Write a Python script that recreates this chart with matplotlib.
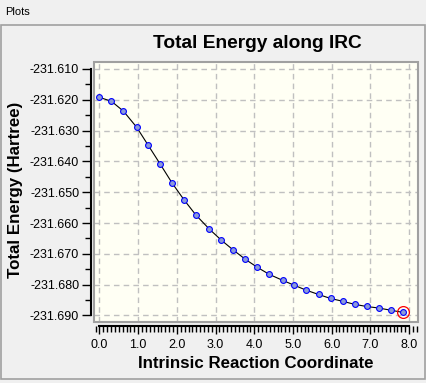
import numpy as np
import matplotlib.pyplot as plt
from matplotlib.patches import Rectangle
from matplotlib.ticker import MultipleLocator, FormatStrFormatter

# irc coordinate of every point
irc = [0.0, 0.31, 0.62, 0.96, 1.26, 1.57, 1.88, 2.18, 2.49, 2.84,
       3.15, 3.46, 3.77, 4.08, 4.39, 4.73, 5.03, 5.34, 5.66, 5.97,
       6.28, 6.59, 6.90, 7.21, 7.52, 7.83]
# total energy in hartree
energy = [-231.6192, -231.6205, -231.6237, -231.6289, -231.6348, -231.6409,
          -231.6471, -231.6524, -231.6574, -231.6620, -231.6656, -231.6688,
          -231.6718, -231.6744, -231.6767, -231.6786, -231.6802, -231.6818,
          -231.6832, -231.6845, -231.6854, -231.6864, -231.6871, -231.6876,
          -231.6883, -231.6890]

#tick labels
x_ticks = [0.0, 1.0, 2.0, 3.0, 4.0, 5.0, 6.0, 7.0, 8.0]
y_ticks = [-231.610, -231.620, -231.630, -231.640, -231.650,
           -231.660, -231.670, -231.680, -231.690]

plt.rcParams['font.family'] = ['Liberation Sans', 'DejaVu Sans']
plt.rcParams['axes.unicode_minus'] = False

W, H = 427, 383
fig = plt.figure(figsize=(W / 100, H / 100), dpi=100, facecolor='#f0f0f0')

#window chrome
fig.text(5 / W, 1 - 12 / H, 'Plots', fontsize=8, ha='left', va='center')
fig.patches.append(Rectangle((1 / W, 1 - 379 / H), 424 / W, 354 / H,
                             transform=fig.transFigure, fill=False,
                             ec='#a0a0a0', lw=1.2))

#plot frame 94..418 x 62..322
ax = fig.add_axes([94 / W, 1 - 322 / H, 324 / W, 260 / H])
ax.set_facecolor('#fffff4')

ax.plot(irc, energy, color='black', lw=0.8, zorder=3)
ax.plot(irc, energy, ls='none', marker='o', ms=4.2, mfc='#8c9bd8',
        mec='#0000ff', mew=0.8, zorder=4)
#highlight the current point
ax.plot(irc[-1], energy[-1], ls='none', marker='o', ms=8.5, mfc='none',
        mec='red', mew=0.9, zorder=5)

ax.set_xlim(-0.142, 8.23)
ax.set_ylim(-231.69214, -231.60773)

ax.set_xticks(x_ticks)
ax.set_yticks(y_ticks)
ax.xaxis.set_minor_locator(MultipleLocator(0.1))
ax.yaxis.set_minor_locator(MultipleLocator(0.005))
ax.xaxis.set_major_formatter(FormatStrFormatter('%.1f'))
ax.yaxis.set_major_formatter(FormatStrFormatter('%.3f'))

ax.grid(True, which='major', color='#c0c0c0', ls=(0, (4, 3)), lw=1)

#axis lines offset from the frame
for s in ['top', 'right']:
    ax.spines[s].set_visible(False)
ax.spines['left'].set_position(('outward', 2.2))
ax.spines['bottom'].set_position(('outward', 2.9))
ax.spines['left'].set_bounds(-231.690, -231.610)
ax.spines['bottom'].set_bounds(0.0, 8.0)
ax.spines['left'].set_linewidth(1.5)
ax.spines['bottom'].set_linewidth(1.5)

ax.tick_params(axis='y', which='major', length=6.5, width=1, pad=2, labelsize=9)
ax.tick_params(axis='y', which='minor', length=4.3, width=1)
ax.tick_params(axis='x', which='major', length=5.5, width=1, pad=4, labelsize=9)
ax.tick_params(axis='x', which='minor', length=4, width=1)

#gray frame round the data area
ax.add_patch(Rectangle((0, 0), 1, 1, transform=ax.transAxes, fill=False,
                       ec='#a0a0a0', lw=1.5, clip_on=False, zorder=6))

#titles
fig.text(257 / W, 1 - 43 / H, 'Total Energy along IRC', fontsize=13.8,
         fontweight='bold', ha='center', va='center')
fig.text(256 / W, 1 - 363 / H, 'Intrinsic Reaction Coordinate', fontsize=12.2,
         fontweight='bold', ha='center', va='center')
fig.text(16 / W, 1 - 190 / H, 'Total Energy (Hartree)', fontsize=12.2,
         fontweight='bold', ha='center', va='center', rotation=90)

plt.savefig('out.png', dpi=100, facecolor=fig.get_facecolor())
